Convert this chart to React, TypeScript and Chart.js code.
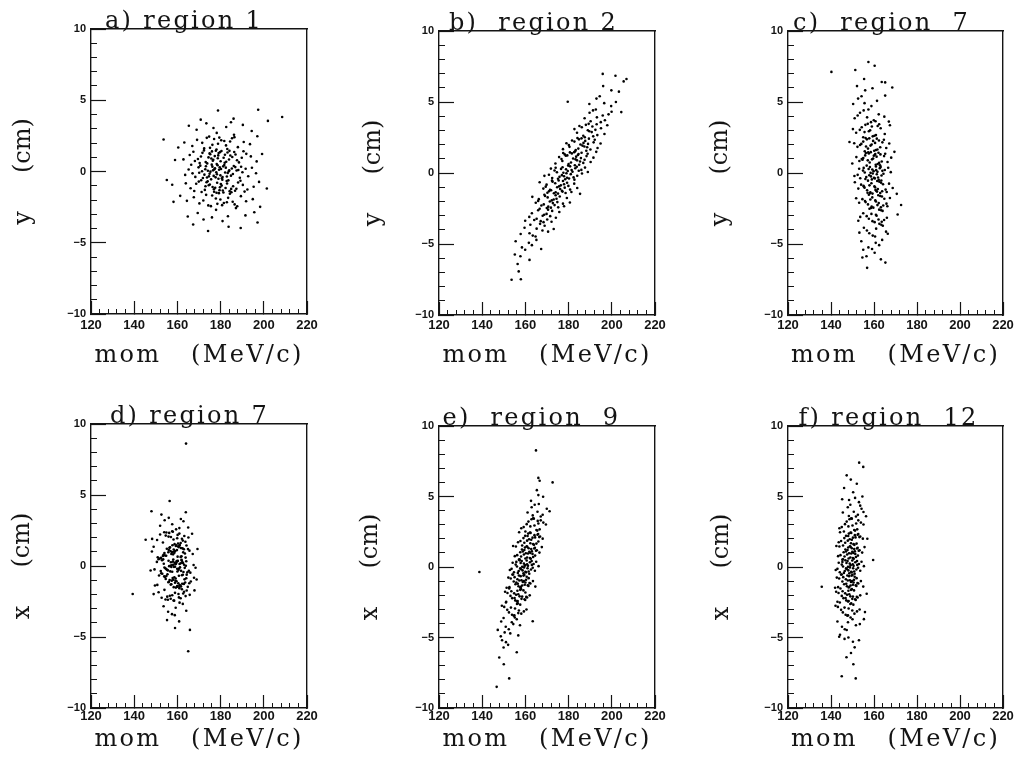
import React, { useEffect, useRef } from "react";
import { Chart, registerables } from "chart.js";

Chart.register(...registerables);

// ---------------- data ----------------
const MOM_TICKS = [120, 140, 160, 180, 200, 220];
const POS_TICKS = [-10, -5, 0, 5, 10];
const MOM_TITLE = "mom   (MeV/c)";

// a) region 1 : mom (MeV/c) vs y (cm)
const pointsA: [number, number][] = [
  [179.3,0.12],[176.8,-0.31],[182.4,0.27],[174.1,0.05],[185.7,-0.18],[170.6,0.41],[188.9,-0.44],[178.0,-0.06],[181.2,0.36],[172.5,-0.22],[184.0,0.09],[168.3,-0.38],[191.6,0.19],[175.9,0.48],[180.6,-0.47],[177.4,0.23],[183.3,-0.11],[165.2,0.14],[186.8,0.31],[173.7,-0.42],[179.9,-0.27],[171.4,0.02],[190.1,-0.05],[176.2,0.34],[182.9,-0.35],[167.0,-0.13],[194.5,0.26],[178.6,0.44],[174.9,-0.16],[187.4,0.07],[180.2,0.18],[169.8,0.29],[184.8,-0.29],[177.7,-0.41],[163.6,-0.24],[192.8,-0.33],[181.7,0.46],[175.3,-0.01],[186.1,0.39],[172.9,0.16],[189.5,0.33],[178.3,-0.19],[183.8,0.01],[170.1,-0.09],[196.4,-0.12],[176.5,0.08],[180.9,-0.39],[173.2,0.37],[185.2,0.21],[166.4,0.47],[179.6,0.29],[182.1,-0.07],[174.6,-0.34],[188.2,0.11],[177.1,0.15],[171.8,-0.46],
  [178.7,0.93],[175.2,1.21],[182.6,0.68],[170.9,1.05],[186.3,1.37],[173.8,0.57],[180.4,1.44],[176.6,0.82],[184.5,1.12],[168.1,0.74],[189.8,0.96],[179.1,1.29],[172.3,1.48],[181.9,0.61],[177.3,1.08],[165.7,1.16],[187.6,0.79],[183.2,1.33],[174.4,0.99],[191.9,1.24],[180.0,0.72],[169.5,0.88],[185.4,1.02],[176.0,1.41],[178.2,0.53],[182.0,1.18],[171.6,1.31],[188.5,0.64],[175.7,0.91],[162.8,0.85],[194.0,1.06],[179.8,1.36],[173.1,0.66],[183.9,0.84],[167.4,1.39],[186.9,1.19],[177.8,1.46],[181.4,0.97],[174.9,1.27],[196.7,0.71],[170.3,0.59],[184.1,1.45],[178.9,1.13],[190.6,1.42],[176.4,0.76],[158.9,0.81],[199.2,1.23],
  [180.1,-0.88],[177.5,-1.14],[183.6,-0.62],[173.0,-1.03],[186.7,-1.35],[175.6,-0.55],[181.3,-1.47],[178.4,-0.79],[184.9,-1.22],[169.9,-0.71],[190.3,-0.94],[179.5,-1.31],[171.2,-1.44],[182.8,-0.67],[176.3,-1.09],[166.1,-1.18],[188.1,-0.77],[184.2,-1.38],[174.5,-0.97],[192.4,-1.26],[180.8,-0.58],[168.7,-0.86],[185.8,-1.04],[177.0,-1.42],[179.0,-0.51],[182.3,-1.16],[172.7,-1.29],[189.2,-0.65],[175.0,-0.92],[163.9,-0.83],[195.3,-1.07],[181.0,-1.33],[174.0,-0.69],[183.0,-0.84],[167.8,-1.37],[187.3,-1.21],[178.1,-1.49],[180.5,-0.99],[176.9,-1.25],[197.8,-0.73],[171.0,-0.61],[185.0,-1.46],[179.7,-1.11],[191.1,-1.41],[173.5,-0.75],[157.6,-0.93],[201.4,-1.19],
  [176.2,1.87],[181.7,2.14],[172.4,1.62],[185.3,2.33],[178.8,1.95],[169.1,2.22],[188.0,1.71],[174.7,2.45],[183.1,1.58],[179.4,2.38],[166.9,1.79],[190.7,2.07],[177.0,2.28],[182.5,1.83],[171.5,2.01],[186.4,2.41],[175.1,1.66],[180.3,2.19],[163.2,2.04],[193.6,1.92],[173.6,2.36],[184.4,2.11],[178.1,1.54],[160.4,1.68],[197.0,2.47],[153.6,2.25],
  [177.8,-1.89],[182.9,-2.16],[173.3,-1.64],[186.5,-2.31],[179.9,-1.97],[170.2,-2.24],[189.4,-1.73],[175.5,-2.43],[184.3,-1.56],[180.7,-2.36],[167.6,-1.81],[191.8,-2.09],[178.5,-2.27],[183.5,-1.85],[172.0,-2.03],[187.7,-2.44],[176.1,-1.68],[181.5,-2.21],[164.4,-2.06],[194.9,-1.94],[174.3,-2.38],[185.6,-2.12],[179.2,-1.52],[161.3,-1.71],[198.3,-2.48],[158.2,-2.13],
  [173.4,3.38],[178.2,2.71],[182.6,3.12],[168.9,2.93],[186.2,2.58],[190.3,3.27],[176.7,3.05],[194.4,2.84],[165.3,3.21],[184.8,3.46],
  [172.1,-3.37],[177.9,-2.69],[183.4,-3.14],[169.4,-2.91],[187.1,-2.57],[191.5,-3.08],[176.0,-3.22],[195.6,-2.86],[164.8,-3.16],[180.9,-3.48],
  [178.8,4.28],[197.4,4.33],[208.5,3.82],[186.0,3.71],[170.8,3.64],[201.9,3.55],[174.2,-4.18],[189.3,-3.96],[197.1,-3.58],[167.3,-3.72],[183.7,-3.88],[155.1,-0.6],
];

// b) region 2 : mom (MeV/c) vs y (cm)
const pointsB: [number, number][] = [
  [179.6,0.14],[175.8,-0.27],[183.1,0.33],[177.2,0.41],[181.0,-0.08],[172.4,-0.36],[185.9,0.22],[178.4,-0.44],[180.7,0.47],[174.6,0.05],[184.0,-0.19],[176.5,0.29],[182.3,-0.31],[170.9,-0.12],[187.6,0.38],[179.0,-0.02],[173.5,0.18],[181.8,0.09],[177.9,-0.23],[183.8,0.44],[175.1,-0.41],[186.2,-0.04],[178.8,0.26],[180.2,-0.39],[171.8,0.31],[184.7,0.16],[176.9,-0.15],[182.7,-0.47],[174.0,0.37],[188.9,0.07],[179.3,-0.33],[168.8,-0.2],[181.4,0.21],[177.6,0.02],
  [183.2,0.96],[179.4,1.24],[186.8,0.71],[181.5,1.38],[184.9,0.58],[177.1,0.84],[188.3,1.19],[182.6,1.47],[180.0,0.63],[185.7,1.05],[178.2,1.31],[183.9,0.89],[175.6,1.12],[190.2,0.77],[182.1,1.02],[186.0,1.43],[179.8,0.52],[184.3,1.27],[176.7,0.98],[188.8,1.36],[181.1,0.74],[183.5,1.15],[173.9,0.67],[191.5,1.08],[180.6,1.45],[185.3,0.81],[178.7,1.21],[187.4,0.93],[182.9,0.55],[177.5,1.41],[184.6,1.33],[192.8,1.49],
  [175.6,-0.94],[171.9,-1.22],[179.3,-0.69],[174.0,-1.36],[177.4,-0.56],[169.8,-0.82],[180.7,-1.17],[175.1,-1.45],[172.6,-0.61],[178.2,-1.03],[170.9,-1.29],[176.4,-0.87],[168.3,-1.1],[182.6,-0.75],[174.7,-1.0],[178.6,-1.41],[172.3,-0.54],[176.9,-1.26],[169.4,-0.96],[181.3,-1.34],[173.8,-0.72],[176.1,-1.13],[166.6,-0.65],[184.0,-1.06],[173.2,-1.43],[177.9,-0.79],[171.4,-1.19],[179.9,-0.91],[175.4,-0.53],[170.2,-1.39],[177.2,-1.31],[185.3,-1.47],
  [186.4,1.93],[182.7,2.21],[190.1,1.66],[184.8,2.37],[188.2,1.57],[180.4,1.84],[191.6,2.16],[186.0,2.44],[183.3,1.62],[189.0,2.05],[181.6,2.29],[187.3,1.87],[179.0,2.1],[193.4,1.76],[185.5,2.01],[189.4,2.42],[183.0,1.53],[187.7,2.26],[180.1,1.97],[192.1,2.34],[184.5,1.72],[186.9,2.12],[177.4,1.68],[194.8,2.08],[184.1,2.46],[188.6,1.81],
  [172.2,-1.93],[168.5,-2.21],[175.9,-1.66],[170.6,-2.37],[174.0,-1.57],[166.2,-1.84],[177.4,-2.16],[171.8,-2.44],[169.1,-1.62],[174.8,-2.05],[167.4,-2.29],[173.1,-1.87],[164.8,-2.1],[179.2,-1.76],[171.3,-2.01],[175.2,-2.42],[168.8,-1.53],[173.5,-2.26],[165.9,-1.97],[177.9,-2.34],[170.3,-1.72],[172.7,-2.12],[163.2,-1.68],[180.6,-2.08],[169.9,-2.46],[174.4,-1.81],
  [189.6,2.94],[186.1,3.22],[193.3,2.67],[188.0,3.39],[191.4,2.58],[183.9,2.83],[195.0,3.15],[189.3,3.46],[186.8,2.62],[192.4,3.04],[185.0,3.31],[190.7,2.88],[182.7,3.09],[196.6,2.75],[188.9,3.01],[193.0,3.43],[187.5,2.52],[191.0,3.27],[197.9,3.36],
  [168.7,-2.94],[165.2,-3.22],[172.4,-2.67],[167.1,-3.39],[170.5,-2.58],[163.0,-2.83],[174.1,-3.15],[168.4,-3.46],[165.9,-2.62],[171.5,-3.04],[164.1,-3.31],[169.8,-2.88],[161.8,-3.09],[175.7,-2.75],[168.0,-3.01],[172.1,-3.43],[166.6,-2.52],[170.1,-3.27],[159.9,-3.36],
  [193.1,3.92],[189.7,4.24],[196.8,3.71],[191.3,4.41],[194.9,3.58],[187.4,3.86],[198.5,4.13],[192.6,4.47],[190.2,3.64],[195.8,4.05],[199.9,4.31],[204.4,4.29],
  [165.2,-3.92],[161.9,-4.24],[168.9,-3.71],[163.4,-4.41],[166.8,-3.58],[159.6,-3.86],[170.5,-4.13],[164.7,-4.47],[162.3,-3.64],[167.9,-4.05],[157.8,-4.3],[173.1,-3.94],
  [196.5,4.92],[192.9,5.24],[199.7,4.71],[194.4,5.41],[201.9,5.0],[189.6,4.86],[179.6,5.02],
  [161.6,-4.92],[158.4,-5.24],[165.1,-4.71],[159.9,-5.41],[163.0,-5.08],[155.5,-4.81],[167.3,-5.35],
  [199.8,5.82],[196.0,6.12],[203.3,5.73],[205.5,6.45],
  [157.7,-5.86],[161.9,-6.12],[155.1,-5.74],[156.4,-6.41],
  [195.8,6.98],[206.8,6.62],[201.7,6.85],[153.6,-7.52],[157.9,-7.48],[156.9,-6.93],
];

// c) region 7 : mom (MeV/c) vs y (cm)
const pointsC: [number, number][] = [
  [159.8,0.13],[156.4,-0.28],[162.7,0.34],[158.1,0.42],[161.3,-0.09],[153.6,-0.37],[165.0,0.21],[159.0,-0.45],[160.9,0.46],[155.7,0.04],[163.5,-0.18],[157.5,0.28],[161.9,-0.32],[152.4,-0.13],[166.6,0.37],[159.4,-0.03],[154.9,0.17],[161.6,0.08],[158.6,-0.24],[163.1,0.43],[156.0,-0.42],[164.4,-0.05],[159.2,0.25],[160.4,-0.38],[153.1,0.3],[163.9,0.15],[157.8,-0.16],[162.2,-0.48],[155.2,0.36],[167.8,0.06],[160.0,-0.34],[150.9,-0.21],[161.0,0.2],[158.4,0.01],
  [159.1,0.96],[155.9,1.24],[162.4,0.71],[157.6,1.38],[160.8,0.58],[153.2,0.84],[164.7,1.19],[158.5,1.47],[161.7,0.63],[155.0,1.05],[163.0,1.31],[157.1,0.89],[151.8,1.12],[166.3,0.77],[159.6,1.02],[162.1,1.43],[156.6,0.52],[160.3,1.27],[154.3,0.98],[165.2,1.36],[158.0,0.74],[161.2,1.15],[149.9,0.67],[168.0,1.08],[157.3,1.45],[163.6,0.81],[159.9,1.21],[154.7,0.93],[162.8,0.55],[156.2,1.41],[160.6,1.33],[169.5,1.49],
  [160.2,-0.94],[156.8,-1.22],[163.3,-0.69],[158.3,-1.36],[161.5,-0.56],[154.0,-0.82],[165.4,-1.17],[159.3,-1.45],[162.5,-0.61],[155.6,-1.03],[163.8,-1.29],[157.9,-0.87],[152.7,-1.1],[167.0,-0.75],[160.5,-1.0],[162.9,-1.41],[157.2,-0.54],[161.1,-1.26],[155.3,-0.96],[165.9,-1.34],[158.8,-0.72],[161.8,-1.13],[151.1,-0.65],[168.7,-1.06],[158.2,-1.43],[164.2,-0.79],[160.7,-1.19],[155.1,-0.91],[163.4,-0.53],[157.0,-1.39],[161.4,-1.31],[170.6,-1.47],
  [158.4,1.93],[155.0,2.21],[161.6,1.66],[156.7,2.37],[160.1,1.57],[152.3,1.84],[163.9,2.16],[157.8,2.44],[160.9,1.62],[154.1,2.05],[162.3,2.29],[156.3,1.87],[150.8,2.1],[165.7,1.76],[158.9,2.01],[161.3,2.42],[155.7,1.53],[159.6,2.26],[153.5,1.97],[164.6,2.34],[157.2,1.72],[160.5,2.12],[148.6,2.18],[167.1,2.08],[156.1,2.46],[162.9,1.81],
  [160.6,-1.93],[157.2,-2.21],[163.7,-1.66],[158.9,-2.37],[162.0,-1.57],[154.6,-1.84],[165.8,-2.16],[159.7,-2.44],[162.9,-1.62],[156.1,-2.05],[164.3,-2.29],[158.3,-1.87],[153.1,-2.1],[167.4,-1.76],[160.9,-2.01],[163.2,-2.42],[157.6,-1.53],[161.6,-2.26],[155.8,-1.97],[166.2,-2.34],[159.2,-1.72],[162.2,-2.12],[151.7,-1.78],[172.6,-2.25],[158.6,-2.46],[164.8,-1.81],
  [157.6,2.94],[154.3,3.22],[160.9,2.67],[156.0,3.39],[159.4,2.58],[151.7,2.83],[163.1,3.15],[157.1,3.46],[160.2,2.62],[153.4,3.04],[161.7,3.31],[155.6,2.88],[150.2,3.09],[165.0,2.75],[158.2,3.01],[162.4,3.43],[155.0,2.52],[159.0,3.27],[167.4,3.36],
  [160.9,-2.94],[157.6,-3.22],[164.0,-2.67],[159.3,-3.39],[162.4,-2.58],[155.0,-2.83],[166.0,-3.15],[160.3,-3.46],[163.3,-2.62],[156.6,-3.04],[164.7,-3.31],[158.8,-2.88],[153.6,-3.09],[171.0,-2.92],[161.2,-3.01],[163.6,-3.43],[157.9,-2.52],[162.1,-3.27],[152.7,-3.36],
  [156.8,3.92],[153.5,4.24],[159.9,3.71],[155.2,4.41],[158.6,3.58],[151.0,3.86],[162.2,4.13],[157.4,4.47],[160.7,3.64],[152.4,4.05],[164.8,3.97],[166.9,3.62],
  [161.0,-3.92],[157.8,-4.24],[164.1,-3.71],[159.4,-4.41],[162.5,-3.58],[155.3,-3.86],[165.6,-4.13],[160.5,-4.47],[163.4,-3.64],[156.7,-4.05],[153.2,-4.2],[166.4,-4.28],
  [155.6,4.92],[152.6,5.24],[158.8,4.71],[154.2,5.41],[161.4,5.08],[150.3,4.86],[165.2,5.45],
  [160.8,-4.92],[157.4,-5.24],[163.8,-4.71],[155.0,-5.41],[162.4,-5.08],[154.1,-4.81],[159.1,-5.35],
  [155.9,5.82],[152.1,6.12],[159.3,5.97],[163.6,6.41],[165.2,6.38],[168.5,6.02],
  [156.5,-5.86],[160.3,-5.62],[163.2,-6.08],[154.6,-5.95],[165.3,-6.31],
  [140.2,7.12],[151.3,7.25],[157.4,7.82],[160.3,7.55],[155.4,6.62],[156.8,-6.68],
];

// d) region 7 : mom (MeV/c) vs x (cm)
const pointsD: [number, number][] = [
  [159.1,0.12],[155.6,-0.31],[162.3,0.27],[157.3,0.05],[160.8,-0.18],[152.9,0.41],[164.6,-0.44],[158.4,-0.06],[160.2,0.36],[154.8,-0.22],[163.1,0.09],[156.7,-0.38],[161.5,0.19],[151.3,0.48],[166.0,-0.47],[158.7,0.23],[154.0,-0.11],[161.0,0.14],[157.9,0.31],[162.8,-0.42],[155.2,-0.27],[163.9,0.02],[158.9,-0.05],[159.7,0.34],[152.3,-0.35],[163.4,-0.13],[157.0,0.26],[161.9,0.44],[154.4,-0.16],[167.5,0.07],[159.4,0.18],[150.5,0.29],[160.5,-0.29],[157.6,-0.41],[149.4,-0.24],[165.3,-0.33],[158.1,0.46],[156.2,-0.01],[162.0,0.39],[153.7,0.16],[164.1,0.33],[159.9,-0.19],[156.9,0.01],[161.2,-0.09],[147.6,-0.32],[168.4,-0.12],[158.0,0.08],[160.0,-0.39],[155.9,0.37],[162.6,0.21],[153.4,0.47],[159.6,0.29],[157.2,-0.07],[161.7,-0.34],
  [158.6,0.93],[155.1,1.21],[161.9,0.68],[156.8,1.05],[160.4,1.37],[152.4,0.57],[164.2,1.44],[158.0,0.82],[159.8,1.12],[154.3,0.74],[162.7,0.96],[156.3,1.29],[161.1,1.48],[150.9,0.61],[165.6,1.08],[158.3,1.16],[153.6,0.79],[160.6,1.33],[157.5,0.99],[162.4,1.24],[154.8,0.72],[163.5,0.88],[158.5,1.02],[159.3,1.41],[151.9,0.53],[163.0,1.18],[156.6,1.31],[161.5,0.64],[154.0,0.91],[167.1,0.85],[159.0,1.06],[149.0,1.36],[160.1,0.66],[157.2,0.84],[148.2,1.02],[164.9,1.19],[157.7,1.46],[155.8,0.97],[161.6,1.27],[153.3,0.71],[163.8,0.59],[159.5,1.45],[156.0,1.13],[160.9,1.42],[169.3,1.2],
  [159.2,-0.88],[155.8,-1.14],[162.5,-0.62],[157.4,-1.03],[161.0,-1.35],[153.0,-0.55],[164.8,-1.47],[158.6,-0.79],[160.4,-1.22],[154.9,-0.71],[163.3,-0.94],[156.9,-1.31],[161.7,-1.44],[151.5,-0.67],[166.2,-1.09],[158.9,-1.18],[154.2,-0.77],[161.2,-1.38],[158.1,-0.97],[163.0,-1.26],[155.4,-0.58],[164.1,-0.86],[159.1,-1.04],[159.9,-1.42],[152.5,-0.51],[163.6,-1.16],[157.2,-1.29],[162.1,-0.65],[154.6,-0.92],[167.7,-0.83],[159.6,-1.07],[150.7,-1.33],[160.7,-0.69],[157.8,-0.84],[149.6,-1.37],[165.5,-1.21],[158.3,-1.49],[156.4,-0.99],[162.2,-1.25],[153.9,-0.73],[164.3,-0.61],[160.1,-1.46],[156.1,-1.11],[161.4,-1.41],[168.9,-0.95],
  [158.2,1.87],[154.6,2.14],[161.5,1.62],[156.2,2.33],[159.9,1.95],[152.0,2.22],[163.7,1.71],[157.6,2.45],[160.3,1.58],[153.9,2.38],[162.5,1.79],[155.9,2.07],[160.9,2.28],[150.6,1.83],[165.1,2.01],[157.9,2.41],[153.3,1.66],[160.1,2.19],[157.0,2.04],[162.1,1.92],[154.9,2.36],[163.2,2.11],[158.7,1.54],[148.3,1.91],[166.8,2.27],
  [158.9,-1.89],[155.3,-2.16],[162.1,-1.64],[156.9,-2.31],[160.5,-1.97],[152.7,-2.24],[164.3,-1.73],[158.2,-2.43],[160.9,-1.56],[154.5,-2.36],[163.1,-1.81],[156.5,-2.09],[161.5,-2.27],[151.3,-1.85],[165.7,-2.03],[158.5,-2.44],[154.0,-1.68],[160.7,-2.21],[157.6,-2.06],[162.7,-1.94],[155.6,-2.38],[163.8,-2.12],[159.3,-1.52],[149.0,-1.98],[167.9,-1.72],
  [157.6,2.94],[154.1,3.22],[160.9,2.67],[156.0,3.39],[159.4,2.58],[152.0,2.83],[162.8,3.15],[161.6,3.31],[165.0,2.71],
  [159.2,-2.94],[155.7,-3.22],[162.5,-2.67],[157.5,-3.39],[161.0,-2.58],[153.6,-2.83],[164.1,-3.15],[158.8,-3.46],[155.2,-3.81],
  [164.0,8.62],[156.4,4.58],[163.9,3.78],[148.0,3.86],[145.3,1.85],[139.3,-1.97],[158.9,-4.37],[165.8,-4.5],[165.0,-6.0],[152.6,3.62],[160.8,-3.9],
];

// e) region 9 : mom (MeV/c) vs x (cm)
const pointsE: [number, number][] = [
  [159.7,0.13],[156.9,-0.28],[162.1,0.34],[158.3,0.42],[161.0,-0.09],[154.7,-0.37],[163.8,0.21],[159.1,-0.45],[160.6,0.46],[156.1,0.04],[162.6,-0.18],[157.8,0.28],[161.5,-0.32],[153.6,-0.13],[165.0,0.37],[159.4,-0.03],[155.5,0.17],[161.2,0.08],[158.7,-0.24],[162.9,0.43],[156.5,-0.42],[163.4,-0.05],[159.3,0.25],[160.3,-0.38],[154.1,0.3],[163.0,0.15],[158.0,-0.16],[161.8,-0.48],[155.8,0.36],[166.1,0.06],[160.0,-0.34],[152.8,-0.21],[160.8,0.2],[158.5,0.01],[157.3,0.47],[164.4,-0.27],[159.9,0.11],[157.6,-0.1],
  [161.2,0.96],[158.4,1.24],[163.6,0.71],[159.8,1.38],[162.5,0.58],[156.2,0.84],[165.3,1.19],[160.6,1.47],[162.1,0.63],[157.6,1.05],[164.1,1.31],[159.3,0.89],[163.0,1.12],[155.1,0.77],[166.5,1.02],[160.9,1.43],[157.0,0.52],[162.7,1.27],[160.2,0.98],[164.4,1.36],[158.0,0.74],[164.9,1.15],[160.8,0.67],[161.8,1.08],[155.6,1.45],[164.5,0.81],[159.5,1.21],[163.3,0.93],[157.3,0.55],[167.6,1.41],[161.5,1.33],[154.3,1.49],[162.3,1.0],[160.0,0.6],[158.8,1.1],
  [158.2,-0.94],[155.4,-1.22],[160.6,-0.69],[156.8,-1.36],[159.5,-0.56],[153.2,-0.82],[162.3,-1.17],[157.6,-1.45],[159.1,-0.61],[154.6,-1.03],[161.1,-1.29],[156.3,-0.87],[160.0,-1.1],[152.1,-0.75],[163.5,-1.0],[157.9,-1.41],[154.0,-0.54],[159.7,-1.26],[157.2,-0.96],[161.4,-1.34],[155.0,-0.72],[161.9,-1.13],[157.8,-0.65],[158.8,-1.06],[152.6,-1.43],[161.5,-0.79],[156.5,-1.19],[160.3,-0.91],[154.3,-0.53],[164.6,-1.39],[158.5,-1.31],[151.3,-1.47],[159.3,-1.0],[157.0,-0.6],[155.8,-1.1],
  [162.7,1.93],[159.9,2.21],[165.1,1.66],[161.3,2.37],[164.0,1.57],[157.7,1.84],[166.8,2.16],[162.1,2.44],[163.6,1.62],[159.1,2.05],[165.6,2.29],[160.8,1.87],[164.5,2.1],[156.6,1.76],[168.0,2.01],[162.4,2.42],[158.5,1.53],[164.2,2.26],[161.7,1.97],[165.9,2.34],[159.5,1.72],[166.4,2.12],[162.3,1.68],[163.3,2.08],[157.1,2.46],[166.0,1.81],[161.0,2.2],
  [156.7,-1.93],[153.9,-2.21],[159.1,-1.66],[155.3,-2.37],[158.0,-1.57],[151.7,-1.84],[160.8,-2.16],[156.1,-2.44],[157.6,-1.62],[153.1,-2.05],[159.6,-2.29],[154.8,-1.87],[158.5,-2.1],[150.6,-1.76],[162.0,-2.01],[156.4,-2.42],[152.5,-1.53],[158.2,-2.26],[155.7,-1.97],[159.9,-2.34],[153.5,-1.72],[160.4,-2.12],[156.3,-1.68],[157.3,-2.08],[151.1,-2.46],[160.0,-1.81],[155.0,-2.2],
  [164.2,2.94],[161.4,3.22],[166.6,2.67],[162.8,3.39],[165.5,2.58],[159.2,2.83],[168.3,3.15],[163.6,3.46],[165.1,2.62],[160.6,3.04],[167.1,3.31],[162.3,2.88],[166.0,3.09],[158.1,2.75],[169.5,3.01],[163.9,3.43],[160.0,2.52],[165.7,3.27],
  [155.2,-2.94],[152.4,-3.22],[157.6,-2.67],[153.8,-3.39],[156.5,-2.58],[150.2,-2.83],[159.3,-3.15],[154.6,-3.46],[156.1,-2.62],[151.6,-3.04],[158.1,-3.31],[153.3,-2.88],[157.0,-3.09],[149.1,-2.75],[160.5,-3.01],[154.9,-3.43],[151.0,-2.52],[156.7,-3.27],
  [165.6,3.92],[162.9,4.24],[168.0,3.71],[164.3,4.41],[167.1,3.58],[161.0,3.86],[169.9,4.13],[166.2,4.47],[171.2,3.95],[163.4,3.66],
  [153.7,-3.92],[150.9,-4.24],[156.0,-3.71],[152.3,-4.41],[155.1,-3.58],[148.8,-3.86],[157.5,-4.13],[163.4,-3.85],[149.9,-3.62],[154.4,-4.05],
  [164.9,8.27],[166.0,6.32],[166.6,6.12],[172.6,6.0],[166.0,5.1],[168.2,4.98],[162.6,4.69],[165.3,5.45],[138.7,-0.35],[147.2,-4.46],[148.6,-4.92],[150.4,-4.64],[151.0,-5.33],[152.0,-5.52],[149.9,-5.71],[156.7,-4.85],[153.0,-4.71],[147.9,-6.42],[150.0,-6.9],[152.5,-7.9],[146.7,-8.5],[156.0,-6.05],[149.2,-5.2],
];

// f) region 12 : mom (MeV/c) vs x (cm)
const pointsF: [number, number][] = [
  [149.1,0.13],[146.4,-0.28],[151.3,0.34],[147.7,0.42],[150.3,-0.09],[144.1,-0.37],[153.0,0.21],[148.5,-0.45],[149.9,0.46],[145.6,0.04],[151.8,-0.18],[147.2,0.28],[150.8,-0.32],[143.0,-0.13],[154.2,0.37],[148.8,-0.03],[145.0,0.17],[150.5,0.08],[148.1,-0.24],[152.1,0.43],[146.0,-0.42],[152.6,-0.05],[148.7,0.25],[149.6,-0.38],[143.6,0.3],[152.2,0.15],[147.4,-0.16],[151.0,-0.48],[145.3,0.36],[155.3,0.06],[149.4,-0.34],[142.2,-0.21],[150.1,0.2],[147.9,0.01],[146.7,0.47],[153.6,-0.27],[159.6,0.5],[147.0,-0.1],
  [149.4,0.96],[146.7,1.24],[151.6,0.71],[148.0,1.38],[150.6,0.58],[144.4,0.84],[153.3,1.19],[148.8,1.47],[150.2,0.63],[145.9,1.05],[152.1,1.31],[147.5,0.89],[151.1,1.12],[143.3,0.77],[154.5,1.02],[149.1,1.43],[145.3,0.52],[150.8,1.27],[148.4,0.98],[152.4,1.36],[146.3,0.74],[152.9,1.15],[149.0,0.67],[149.9,1.08],[143.9,1.45],[152.5,0.81],[147.7,1.21],[151.3,0.93],[145.6,0.55],[155.6,1.41],[149.7,1.33],[142.5,1.49],[150.4,1.0],[148.2,0.6],[147.0,1.1],
  [148.8,-0.94],[146.1,-1.22],[151.0,-0.69],[147.4,-1.36],[150.0,-0.56],[143.8,-0.82],[152.7,-1.17],[148.2,-1.45],[149.6,-0.61],[145.3,-1.03],[151.5,-1.29],[146.9,-0.87],[150.5,-1.1],[142.7,-0.75],[153.9,-1.0],[148.5,-1.41],[144.7,-0.54],[150.2,-1.26],[147.8,-0.96],[151.8,-1.34],[145.7,-0.72],[152.3,-1.13],[148.4,-0.65],[149.3,-1.06],[143.3,-1.43],[151.9,-0.79],[147.1,-1.19],[150.7,-0.91],[145.0,-0.53],[155.0,-1.39],[149.1,-1.31],[141.9,-1.47],[149.8,-1.0],[147.6,-0.6],[135.7,-1.4],
  [149.7,1.93],[147.0,2.21],[151.9,1.66],[148.3,2.37],[150.9,1.57],[144.7,1.84],[153.6,2.16],[149.1,2.44],[150.5,1.62],[146.2,2.05],[152.4,2.29],[147.8,1.87],[151.4,2.1],[143.6,1.76],[154.8,2.01],[149.4,2.42],[145.6,1.53],[151.1,2.26],[148.7,1.97],[152.7,2.34],[146.6,1.72],[153.2,2.12],[149.3,1.68],[150.2,2.08],[144.2,2.46],[156.9,2.0],[148.0,2.2],
  [148.5,-1.93],[145.8,-2.21],[150.7,-1.66],[147.1,-2.37],[149.7,-1.57],[143.5,-1.84],[152.4,-2.16],[147.9,-2.44],[149.3,-1.62],[145.0,-2.05],[151.2,-2.29],[146.6,-1.87],[150.2,-2.1],[142.4,-1.76],[153.6,-2.01],[148.2,-2.42],[144.4,-1.53],[149.9,-2.26],[147.5,-1.97],[151.5,-2.34],[145.4,-1.72],[152.0,-2.12],[148.1,-1.68],[149.0,-2.08],[143.0,-2.46],[156.6,-1.9],[146.8,-2.2],
  [150.0,2.94],[147.3,3.22],[152.2,2.67],[148.6,3.39],[151.2,2.58],[145.0,2.83],[153.9,3.15],[149.4,3.46],[150.8,2.62],[146.5,3.04],[152.7,3.31],[148.1,2.88],[151.7,3.09],[143.9,2.75],[155.1,3.01],[149.7,3.43],[146.0,2.52],[156.3,3.6],
  [148.2,-2.94],[145.5,-3.22],[150.4,-2.67],[146.8,-3.39],[149.4,-2.58],[143.2,-2.83],[152.1,-3.15],[147.6,-3.46],[149.0,-2.62],[144.7,-3.04],[150.9,-3.31],[146.3,-2.88],[149.9,-3.09],[142.1,-2.75],[153.3,-3.01],[147.9,-3.43],[144.1,-2.52],[155.8,-3.2],
  [150.6,3.92],[147.8,4.24],[152.5,3.71],[149.0,4.41],[151.6,3.58],[145.5,3.86],[154.2,4.13],[153.6,4.35],[148.3,3.62],[155.1,3.9],
  [147.9,-3.92],[145.1,-4.24],[150.0,-3.71],[146.4,-4.41],[149.1,-3.58],[143.0,-3.86],[151.6,-4.13],[147.3,-4.47],[153.4,-4.05],[155.3,-3.7],
  [153.1,7.4],[155.0,7.1],[147.3,6.5],[149.2,6.2],[152.0,5.9],[146.1,5.6],[150.3,5.3],[151.2,4.9],[153.0,4.6],[148.4,4.75],[154.6,5.0],[145.2,4.8],
  [144.2,-4.8],[146.3,-5.1],[148.1,-5.0],[150.2,-5.3],[151.0,-5.7],[149.3,-6.1],[150.4,-6.9],[145.0,-7.75],[151.5,-7.9],[147.2,-6.4],[153.0,-5.2],[143.8,-4.95],
];

const PANELS = [
  { title: "a) region 1", yTitle: "y     (cm)", points: pointsA },
  { title: "b)  region 2", yTitle: "y     (cm)", points: pointsB },
  { title: "c)  region  7", yTitle: "y     (cm)", points: pointsC },
  { title: "d) region 7", yTitle: "x     (cm)", points: pointsD },
  { title: "e)  region  9", yTitle: "x     (cm)", points: pointsE },
  { title: "f) region  12", yTitle: "x     (cm)", points: pointsF },
];

// ---------------- layout / style ----------------
// plot-area rectangles (page pixels) and text anchor positions
const FRAMES = [
  { L: 91, T: 29, W: 216, H: 285, bottom: 383, titleCx: 184, yTitleCx: 24, tickCy: 11, xTitleCy: 41.5 },
  { L: 439, T: 31, W: 216, H: 284, bottom: 383, titleCx: 533.5, yTitleCx: 374, tickCy: 10.5, xTitleCy: 41 },
  { L: 788, T: 31, W: 215, H: 284, bottom: 383, titleCx: 881.5, yTitleCx: 721, tickCy: 10.5, xTitleCy: 41 },
  { L: 91, T: 424, W: 216, H: 284, bottom: 766, titleCx: 189.5, yTitleCx: 23, tickCy: 8.5, xTitleCy: 32 },
  { L: 439, T: 426, W: 216, H: 282, bottom: 766, titleCx: 531.5, yTitleCx: 371, tickCy: 8.5, xTitleCy: 32 },
  { L: 788, T: 426, W: 215, H: 282, bottom: 766, titleCx: 888.5, yTitleCx: 722, tickCy: 8.5, xTitleCy: 32 },
];

const INK = "#141414";
const DOT = "#000";
const SERIF = '"DejaVu Serif", "Liberation Serif", serif';
const SANS = '"Liberation Sans Narrow", "Liberation Sans", Arial, sans-serif';
const Y_AXIS_W = 91;
const TITLE_H = 29;
const BIG = 24;
const TICK_FONT = 13;
const YTICK_FONT = 11;
const X_MAJOR = 13, X_MINOR = 5, Y_MAJOR = 15, Y_MINOR = 6;

const letterSpacingPlugin = {
  id: "letterSpacing",
  beforeDraw(chart: any, _args: any, opts: any) {
    const ctx = chart.ctx as any;
    const wrap = (obj: any, key: string, spacing: number) => {
      if (!obj || obj["__ls_" + key]) return;
      const orig = obj[key];
      obj[key] = function (...a: any[]) {
        const prev = ctx.letterSpacing;
        ctx.letterSpacing = spacing + "px";
        try {
          return orig.apply(this, a);
        } finally {
          ctx.letterSpacing = prev;
        }
      };
      obj["__ls_" + key] = true;
    };
    wrap(chart.titleBlock, "draw", opts.title || 0);
    wrap(chart.scales.x, "drawTitle", opts.xTitle || 0);
    wrap(chart.scales.y, "drawTitle", opts.yTitle || 0);
  },
};

const fmtNum = (v: number) => (v < 0 ? "\u2212" + Math.abs(v) : String(v));

function Panel({ idx }: { idx: number }) {
  const ref = useRef<HTMLCanvasElement | null>(null);
  const p = PANELS[idx];
  const f = FRAMES[idx];
  const canvasLeft = f.L - Y_AXIS_W;
  const canvasTop = f.T - TITLE_H;
  const width = Math.round(2 * f.titleCx - 2 * canvasLeft);
  const height = f.bottom - canvasTop;
  const xAxisH = f.bottom - (f.T + f.H);
  const rightW = canvasLeft + width - (f.L + f.W);

  useEffect(() => {
    if (!ref.current) return;
    const tickLH = TICK_FONT * 1.2;
    const chart = new Chart(ref.current, {
      type: "scatter",
      data: {
        datasets: [
          {
            data: p.points.map(([x, y]) => ({ x, y })),
            xAxisID: "x",
            yAxisID: "y",
            pointRadius: 1.3,
            pointHoverRadius: 1.3,
            pointBorderWidth: 0,
            pointBackgroundColor: DOT,
            backgroundColor: DOT,
          },
        ],
      },
      options: {
        responsive: false,
        maintainAspectRatio: false,
        animation: false,
        events: [],
        layout: { padding: 0 },
        plugins: {
          legend: { display: false },
          tooltip: { enabled: false },
          title: {
            display: true,
            text: p.title,
            color: INK,
            font: { family: SERIF, size: BIG, weight: "normal", lineHeight: 1 },
            padding: { top: 10, bottom: -5 },
          },
          letterSpacing: { title: 2.3, xTitle: 2.3, yTitle: 0 },
        } as any,
        scales: {
          x: {
            type: "linear",
            position: "bottom",
            weight: 1,
            min: 120,
            max: 220,
            afterBuildTicks: (s: any) => {
              s.ticks = MOM_TICKS.map((v) => ({ value: v }));
            },
            afterFit: (s: any) => {
              s.height = xAxisH;
            },
            grid: { drawOnChartArea: false, drawTicks: true, tickLength: -X_MAJOR, tickWidth: 1.2, tickColor: INK, lineWidth: 1, color: INK },
            border: { display: true, color: INK, width: 1.4 },
            ticks: {
              autoSkip: false,
              maxRotation: 0,
              color: INK,
              padding: f.tickCy - tickLH / 2 + X_MAJOR,
              font: { family: SANS, size: TICK_FONT, weight: "bold", lineHeight: 1.2 },
              callback: (v: any) => fmtNum(Number(v)),
            },
            title: {
              display: true,
              text: MOM_TITLE,
              color: INK,
              font: { family: SERIF, size: BIG, weight: "normal", lineHeight: 1 },
              padding: { top: 0, bottom: xAxisH - f.xTitleCy - BIG / 2 },
            },
          },
          xMinor: {
            type: "linear",
            position: "bottom",
            weight: 0,
            min: 120,
            max: 220,
            afterFit: (s: any) => {
              s.height = 0;
            },
            grid: { drawOnChartArea: false, drawTicks: true, tickLength: -X_MINOR, tickWidth: 1, tickColor: INK, lineWidth: 1 },
            border: { display: false },
            ticks: { display: false, stepSize: 4, autoSkip: false },
          },
          xTop: {
            type: "linear",
            position: "top",
            min: 120,
            max: 220,
            afterFit: (s: any) => {
              s.height = 0;
            },
            grid: { display: true, drawOnChartArea: false, drawTicks: false },
            border: { display: true, color: INK, width: 1.4 },
            ticks: { display: false },
          },
          y: {
            type: "linear",
            position: "left",
            weight: 1,
            min: -10,
            max: 10,
            afterBuildTicks: (s: any) => {
              s.ticks = POS_TICKS.map((v) => ({ value: v }));
            },
            afterFit: (s: any) => {
              s.width = Y_AXIS_W;
            },
            grid: { drawOnChartArea: false, drawTicks: true, tickLength: -Y_MAJOR, tickWidth: 1.2, tickColor: INK, lineWidth: 1, color: INK },
            border: { display: true, color: INK, width: 1.4 },
            ticks: {
              autoSkip: false,
              color: INK,
              padding: 5 + Y_MAJOR,
              font: { family: SANS, size: YTICK_FONT, weight: "bold", lineHeight: 1.2 },
              callback: (v: any) => fmtNum(Number(v)),
            },
            title: {
              display: true,
              text: p.yTitle,
              color: INK,
              font: { family: SERIF, size: BIG, weight: "normal", lineHeight: 1 },
              padding: { top: f.yTitleCx - canvasLeft - BIG / 2, bottom: 0 },
            },
          },
          yMinor: {
            type: "linear",
            position: "left",
            weight: 0,
            min: -10,
            max: 10,
            afterFit: (s: any) => {
              s.width = 0;
            },
            grid: { drawOnChartArea: false, drawTicks: true, tickLength: -Y_MINOR, tickWidth: 1, tickColor: INK, lineWidth: 1 },
            border: { display: false },
            ticks: { display: false, stepSize: 1, autoSkip: false },
          },
          yRight: {
            type: "linear",
            position: "right",
            min: -10,
            max: 10,
            afterFit: (s: any) => {
              s.width = rightW;
            },
            grid: { display: true, drawOnChartArea: false, drawTicks: false },
            border: { display: true, color: INK, width: 1.4 },
            ticks: { display: false },
          },
        } as any,
      },
      plugins: [letterSpacingPlugin as any],
    });
    return () => chart.destroy();
  }, []);

  return (
    <canvas
      ref={ref}
      width={width}
      height={height}
      style={{ position: "absolute", left: canvasLeft, top: canvasTop, width, height }}
    />
  );
}

export default function App() {
  return (
    <div
      style={{
        position: "absolute",
        left: 0,
        top: 0,
        width: 1019,
        height: 766,
        overflow: "hidden",
        background: "#fff",
      }}
    >
      {PANELS.map((_, i) => (
        <Panel key={i} idx={i} />
      ))}
    </div>
  );
}
